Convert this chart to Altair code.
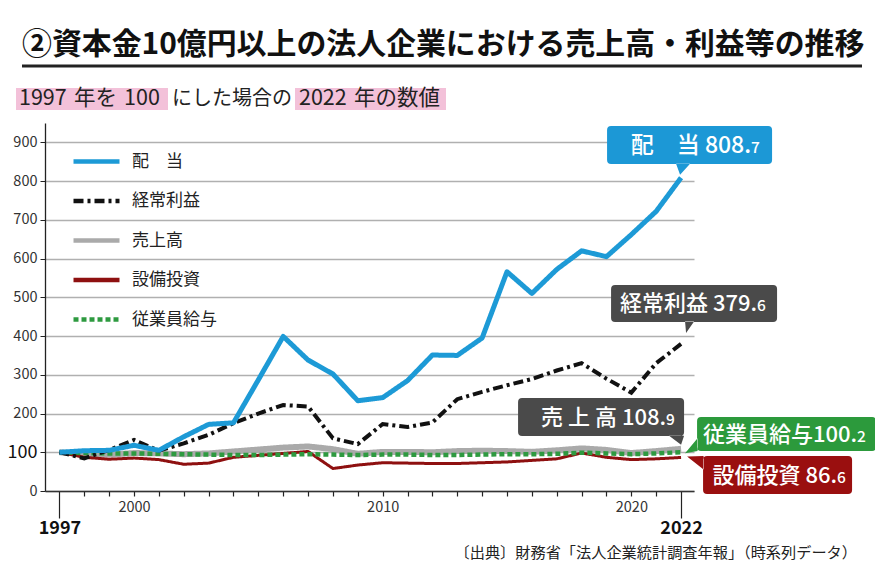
import altair as alt
import pandas as pd

FONT = "Noto Sans CJK JP"

years = list(range(1997, 2023))
series = ["配　当", "経常利益", "売上高", "設備投資", "従業員給与"]

dividends = [100, 104, 105, 118, 105, 140, 172, 176, 287, 399, 338, 302, 233,
             241, 285, 351, 350, 395, 566, 510, 572, 620, 605, 662, 722, 808.7]
ordinary_profit = [100, 84, 106, 132, 104, 123, 145, 175, 200, 222, 218, 136, 121,
                   173, 165, 177, 237, 256, 273, 289, 311, 330, 290, 254, 330, 379.6]
sales = [100, 95, 94, 98, 97, 95, 97, 102, 107, 112, 115, 108, 96,
         101, 101, 100, 103, 104, 103, 101, 105, 110, 106, 98, 103, 108.9]
capex = [100, 87, 82, 85, 81, 69, 72, 87, 92, 97, 102, 58, 67,
         73, 72, 71, 71, 73, 75, 79, 83, 98, 87, 81, 83, 86.6]
wages = [100, 98, 97, 97, 96, 95, 94, 93, 93, 94, 95, 94, 93,
         94, 94, 93, 93, 94, 95, 95, 96, 99, 97, 95, 97, 100.2]

colors = ["#1d9ad6", "#111111", "#aaaaaa", "#8e1010", "#2e9a40"]
dashes = [[1, 0], [10, 4, 3, 4], [1, 0], [1, 0], [5, 3]]
widths = {"配　当": 5, "経常利益": 4, "売上高": 6, "設備投資": 3, "従業員給与": 4.5}
draw_order = ["売上高", "設備投資", "従業員給与", "経常利益", "配　当"]

title_text = "②資本金10億円以上の法人企業における売上高・利益等の推移"
sub_a = "1997\u2004年を\u2004100"
sub_b = "にした場合の"
sub_c = "2022\u2004年の数値"
source_text = "〔出典〕財務省「法人企業統計調査年報」（時系列データ）"

callout_main = ["配　当 808.", "経常利益 379.", "売 上 高 108.", "従業員給与100.", "設備投資 86."]
callout_dec = ["7", "6", "9", "2", "6"]
callout_vals = [808.7, 379.6, 108.9, 100.2, 86.6]
callout_fill = ["#1c98d6", "#4a4a4a", "#4a4a4a", "#2c9a3c", "#9a0f0f"]

rows = []
for name, vals in zip(series, [dividends, ordinary_profit, sales, capex, wages]):
    for yr, v in zip(years, vals):
        rows.append({"year": yr, "value": v, "series": name})
df = pd.DataFrame(rows)

legend = alt.Legend(title=None, orient="none", legendX=26, legendY=13,
                    symbolType="stroke", symbolSize=2116, symbolStrokeWidth=4.5,
                    labelFontSize=17, labelFont=FONT, labelColor="#222",
                    rowPadding=4.5, labelOffset=10, padding=0)

big = "datum.value == 1997 || datum.value == 2022"
x_enc = alt.X("year:Q", title=None,
              scale=alt.Scale(domain=[1996.42, 2022.52], nice=False, zero=False),
              axis=alt.Axis(values=years, format="d", grid=False,
                            labelExpr="indexof([1997,2000,2010,2020,2022], datum.value) >= 0 ? datum.label : ''",
                            labelFlush=False, labelOverlap=False,
                            domainColor="#333", domainWidth=1.3,
                            tickColor="#222", tickWidth=1.2,
                            tickSize={"condition": {"test": big, "value": 27}, "value": 5},
                            labelPadding={"condition": {"test": big, "value": 1}, "value": 4},
                            labelFont=FONT,
                            labelFontSize={"condition": {"test": big, "value": 18}, "value": 14.5},
                            labelFontWeight={"condition": {"test": big, "value": "bold"}, "value": "normal"},
                            labelColor={"condition": {"test": big, "value": "#111"}, "value": "#333"}))
y_enc = alt.Y("value:Q", title=None,
              scale=alt.Scale(domain=[0, 950], nice=False),
              axis=alt.Axis(values=list(range(0, 1000, 100)), grid=True,
                            gridColor="#b0b0b0", gridWidth=1.3,
                            domainColor="#222", domainWidth=1.3,
                            tickColor="#222", tickSize=5, labelPadding=3,
                            labelFont=FONT,
                            labelFontSize={"condition": {"test": "datum.value == 100", "value": 18}, "value": 14.5},
                            labelColor={"condition": {"test": "datum.value == 100", "value": "#111"}, "value": "#333"}))
color_enc = alt.Color("series:N", scale=alt.Scale(domain=series, range=colors), legend=legend)
dash_enc = alt.StrokeDash("series:N", scale=alt.Scale(domain=series, range=dashes), legend=legend)

layers = []
for name in draw_order:
    solid = name not in ("経常利益", "従業員給与")
    layers.append(
        alt.Chart(df).transform_filter(alt.datum.series == name)
        .mark_line(strokeWidth=widths[name], strokeCap="butt",
                   strokeJoin="round" if solid else "miter")
        .encode(x=x_enc, y=y_enc, color=color_enc, strokeDash=dash_enc)
    )


def bubble(x0, x1, y0, y1, tail, r=4):
    p = (f"M{x0 + r},{y0} L{x1 - r},{y0} Q{x1},{y0} {x1},{y0 + r} "
         f"L{x1},{y1 - r} Q{x1},{y1} {x1 - r},{y1} L{x0 + r},{y1} "
         f"Q{x0},{y1} {x0},{y1 - r} L{x0},{y0 + r} Q{x0},{y0} {x0 + r},{y0} Z ")
    (ax, ay), (bx, by), (cx, cy) = tail
    p += f"M{ax},{ay} L{bx},{by} L{cx},{cy} Z"
    return p


# box geometry relative to the data point (pixels), tail triangles, text offsets
geoms = [
    ((-74, 91, -51.7, -13.7), ((-5, -14), (-1, -3), (9, -14)), 70, -24.5),
    ((-70, 96, -59, -22), ((4, -22.5), (5, -11), (13, -22.5)), 76, -32.5),
    ((-163, 3, -50.8, -12.8), ((-12, -13), (0, -4), (3, -13)), -15, -23.5),
    ((16, 195, -35.2, -1.2), ((16.5, -14), (4, 1), (16.5, -1.2)), 176, -10),
    ((22, 171, -1.5, 36.5), ((22.5, -1.5), (6, -1), (22.5, 12)), 156, 25.5),
]
main_sizes = [23, 22, 22, 22, 22]

for main, dec, val, fill, (box, tail, tx, ty), ms in zip(callout_main, callout_dec, callout_vals,
                                                          callout_fill, geoms, main_sizes):
    cdf = pd.DataFrame({"year": [2022], "value": [val], "main": [main], "dec": [dec]})
    base = alt.Chart(cdf).encode(x=x_enc, y=y_enc)
    layers.append(base.mark_point(shape=bubble(*box, tail), size=4, filled=True,
                                  fill=fill, opacity=1, strokeWidth=0))
    layers.append(base.mark_text(align="right", baseline="alphabetic", dx=tx, dy=ty,
                                 font=FONT, fontSize=ms, fontWeight=500, color="white")
                  .encode(text="main:N"))
    layers.append(base.mark_text(align="left", baseline="alphabetic", dx=tx, dy=ty,
                                 font=FONT, fontSize=15.5, fontWeight=500, color="white")
                  .encode(text="dec:N"))


def text_layer(txt, x, y, size, weight="normal", color="#222", align="left"):
    return (alt.Chart(pd.DataFrame({"t": [txt]}))
            .mark_text(align=align, baseline="middle", font=FONT, fontSize=size,
                       fontWeight=weight, color=color)
            .encode(x=alt.value(x), y=alt.value(y), text="t:N"))


def rect_layer(x0, x1, y0, y1, color):
    return (alt.Chart(pd.DataFrame({"a": [0]})).mark_rect(color=color)
            .encode(x=alt.value(x0), x2=alt.value(x1), y=alt.value(y0), y2=alt.value(y1)))


deco = [
    text_layer(title_text, -23, -78, 29.9, weight="bold", color="#111"),
    alt.Chart(pd.DataFrame({"a": [0]})).mark_rule(strokeWidth=3, color="#222")
    .encode(x=alt.value(-23), x2=alt.value(817), y=alt.value(-57)),
    rect_layer(-29, 123, -35, -13, "#f3c1d9"),
    rect_layer(250, 401, -35, -13, "#f3c1d9"),
    text_layer(sub_a, -26, -24, 21.5),
    text_layer(sub_b, 127, -24, 20),
    text_layer(sub_c, 254, -24, 21.5),
    text_layer(source_text, 812, 430, 15.2, align="right"),
]

chart = alt.layer(*layers, *deco).properties(
    width=649, height=368,
    autosize=alt.AutoSizeParams(type="none"),
    padding={"left": 37, "top": 115, "right": 181, "bottom": 73},
).configure_view(strokeWidth=0)

chart.save("out.html", embed_options={"renderer": "svg", "actions": False})
